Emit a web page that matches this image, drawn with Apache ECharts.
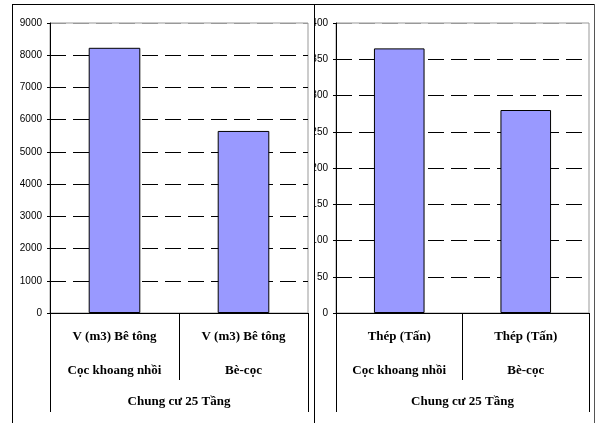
<!DOCTYPE html>
<html>
<head>
<meta charset="utf-8">
<script src="https://cdn.jsdelivr.net/npm/echarts@6/dist/echarts.min.js"></script>
<style>
  html, body { margin: 0; padding: 0; background: #fff; }
  body { width: 598px; height: 423px; position: relative; overflow: hidden; }
  .chart { position: absolute; overflow: hidden; }
  .ln { position: absolute; background: #000; }
</style>
</head>
<body>
<div class="ln" style="left:12px;top:4px;width:583px;height:1px;"></div>
<div class="ln" style="left:12px;top:4px;width:1px;height:419px;"></div>
<div class="ln" style="left:314px;top:4px;width:1px;height:419px;"></div>
<div class="ln" style="left:594px;top:4px;width:1px;height:419px;background:#555;"></div>
<div id="c1" class="chart" style="left:13px;top:5px;width:301px;height:418px;"></div>
<div id="c2" class="chart" style="left:315px;top:5px;width:279px;height:418px;"></div>
<script>
// ---- data ----
const groupLabel = ['Chung cư 25 Tầng'];
const leftCategories = ['V (m3) Bê tông\nCọc khoang nhồi', 'V (m3) Bê tông\nBè-cọc'];
const leftValues = [8230, 5650];
const leftAxis = { min: 0, max: 9000, interval: 1000 };
const rightCategories = ['Thép (Tấn)\nCọc khoang nhồi', 'Thép (Tấn)\nBè-cọc'];
const rightValues = [365, 280];
const rightAxis = { min: 0, max: 400, interval: 50 };

function makeOption(cats, vals, ax, grid) {
  const nLines = Math.round((ax.max - ax.min) / ax.interval) + 1;
  const gridColors = [];
  for (let i = 0; i < nLines; i++) gridColors.push(i === nLines - 1 ? '#999' : '#000');
  return {
    animation: false,
    grid: Object.assign({
      show: true, borderColor: '#999', borderWidth: 1, backgroundColor: '#fff',
      containLabel: false, outerBoundsMode: 'none'
    }, grid),
    xAxis: [
      {
        type: 'category',
        data: cats,
        position: 'bottom',
        axisLine: { show: true, lineStyle: { color: '#000', width: 1 } },
        axisTick: { show: true, length: 67, alignWithLabel: false, lineStyle: { color: '#000' } },
        axisLabel: {
          margin: 7,
          fontFamily: 'Liberation Serif',
          fontWeight: 'bold',
          fontSize: 13,
          color: '#000',
          lineHeight: 34,
          interval: 0
        },
        splitLine: { show: false }
      },
      {
        type: 'category',
        data: groupLabel,
        position: 'bottom',
        axisLine: { show: false },
        axisTick: { show: true, length: 99, alignWithLabel: false, lineStyle: { color: '#000' } },
        axisLabel: {
          margin: 82,
          fontFamily: 'Liberation Serif',
          fontWeight: 'bold',
          fontSize: 13,
          color: '#000',
          lineHeight: 14
        },
        splitLine: { show: false }
      }
    ],
    yAxis: {
      type: 'value',
      min: ax.min,
      max: ax.max,
      interval: ax.interval,
      axisLine: { show: true, lineStyle: { color: '#000', width: 1 } },
      axisTick: { show: true, length: 3, lineStyle: { color: '#000' } },
      axisLabel: {
        margin: 8, fontFamily: 'Liberation Sans', fontSize: 10, color: '#000',
        formatter: function (v) { return String(v); }
      },
      splitLine: { show: true, lineStyle: { color: gridColors, type: [16, 7], width: 1 } }
    },
    series: [{
      type: 'bar',
      xAxisIndex: 0,
      data: vals,
      barWidth: '40%',
      itemStyle: { color: '#9999FF', borderColor: '#000', borderWidth: 1 }
    }]
  };
}

const c1 = echarts.init(document.getElementById('c1'), null, { renderer: 'canvas' });
c1.setOption(makeOption(leftCategories, leftValues, leftAxis, { left: 37, top: 18, width: 258, height: 290 }));
const c2 = echarts.init(document.getElementById('c2'), null, { renderer: 'canvas' });
c2.setOption(makeOption(rightCategories, rightValues, rightAxis, { left: 21, top: 18, width: 253, height: 290 }));
</script>
</body>
</html>
